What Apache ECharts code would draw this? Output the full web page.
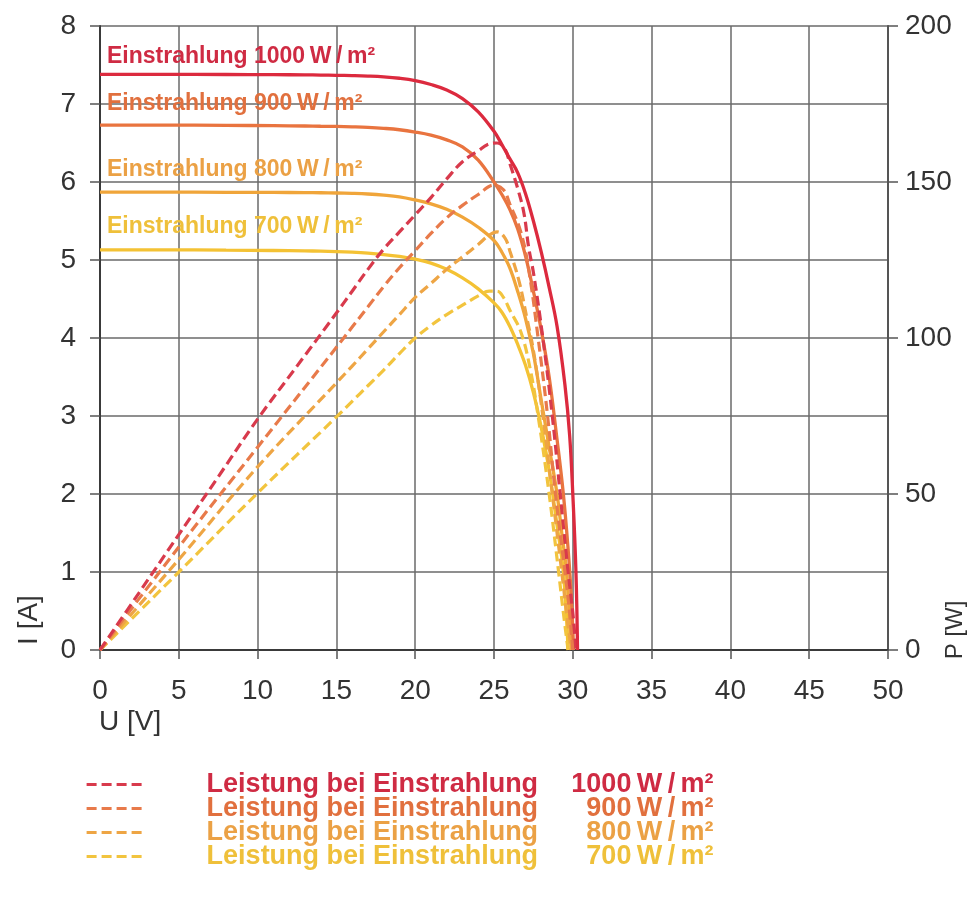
<!DOCTYPE html>
<html>
<head>
<meta charset="utf-8">
<script src="https://cdn.jsdelivr.net/npm/echarts@6/dist/echarts.min.js"></script>
<style>html,body{margin:0;padding:0;background:#fff}#c{width:980px;height:897px}</style>
</head>
<body>
<div id="c"></div>
<script>
// ---- data ----
// I-U curves (solid, left axis, I in A)
const U_I1000 = [0, 4, 8, 11, 13, 14, 15, 16, 17, 18, 19, 20, 21, 22, 23, 24, 25, 25.5, 26, 26.5, 27, 27.5, 28, 28.5, 29, 29.5, 29.8, 30.0, 30.2, 30.3];
const I1000   = [7.38, 7.38, 7.378, 7.376, 7.373, 7.371, 7.368, 7.364, 7.358, 7.348, 7.33, 7.3, 7.25, 7.18, 7.07, 6.9, 6.65, 6.48, 6.3, 6.12, 5.85, 5.5, 5.1, 4.65, 4.15, 3.4, 2.75, 2.0, 1.0, 0];
const U_I900  = [0, 4, 8, 11, 13, 14, 15, 16, 17, 18, 19, 20, 21, 22, 23, 24, 25, 25.5, 26, 26.5, 27, 27.5, 28, 28.5, 29, 29.4, 29.7, 29.9, 30.05];
const I900    = [6.73, 6.73, 6.726, 6.722, 6.718, 6.715, 6.712, 6.707, 6.7, 6.688, 6.67, 6.64, 6.6, 6.54, 6.45, 6.28, 6.0, 5.84, 5.65, 5.4, 5.05, 4.6, 4.1, 3.5, 2.7, 2.0, 1.3, 0.7, 0];
const U_I800  = [0, 4, 8, 11, 13, 14, 15, 16, 17, 18, 19, 20, 21, 22, 23, 24, 25, 25.5, 26, 26.5, 27, 27.5, 28, 28.5, 29, 29.3, 29.6, 29.9];
const I800    = [5.87, 5.87, 5.868, 5.866, 5.864, 5.862, 5.859, 5.854, 5.846, 5.832, 5.81, 5.77, 5.72, 5.65, 5.55, 5.42, 5.25, 5.1, 4.9, 4.6, 4.25, 3.8, 3.2, 2.6, 2.0, 1.5, 1.0, 0];
const U_I700  = [0, 4, 8, 11, 13, 14, 15, 16, 17, 18, 19, 20, 21, 22, 23, 24, 25, 25.5, 26, 26.5, 27, 27.5, 28, 28.5, 29, 29.4, 29.7];
const I700    = [5.13, 5.13, 5.126, 5.122, 5.117, 5.113, 5.108, 5.1, 5.088, 5.07, 5.045, 5.01, 4.96, 4.88, 4.77, 4.63, 4.45, 4.33, 4.15, 3.92, 3.65, 3.3, 2.85, 2.3, 1.6, 1.0, 0];

// P-U curves (dashed, right axis, P in W)
const U_P1000 = [0, 2.5, 5, 7.5, 10, 12.5, 15, 16, 17, 18, 19, 20, 21, 22, 23, 24, 24.6, 25.2, 25.7, 26.0, 26.5, 26.9, 27.2, 27.5, 28.1, 28.7, 29.2, 29.7, 30.0, 30.2];
const P1000   = [0, 18.5, 37, 55.5, 74, 91, 108, 115, 122, 128.5, 134, 139.5, 145, 151, 156.5, 160, 162, 162.5, 160.5, 156, 148, 140, 129, 121, 100, 75, 50, 25, 12, 0];
const U_P900  = [0, 5, 10, 15, 16, 17, 18, 19, 20, 21, 22, 23, 24, 25, 25.6, 26.0, 26.7, 27.2, 27.8, 28.4, 28.9, 29.5, 29.8, 30.0];
const P900    = [0, 33, 65, 97, 103.5, 110, 116.5, 122.5, 128, 133.5, 138.5, 142.5, 146, 149, 147.5, 143, 134, 122, 100, 75, 50, 25, 12, 0];
const U_P800  = [0, 5, 10, 15, 16, 17, 18, 19, 20, 21, 22, 23, 24, 24.7, 25.2, 25.7, 26.0, 26.6, 27.1, 27.5, 28.1, 28.7, 29.3, 29.6, 29.9];
const P800    = [0, 29, 58.7, 85.6, 91, 96.5, 102, 107.5, 113, 117.5, 122, 126, 130, 133, 134, 132, 128, 118, 106, 96, 75, 50, 25, 12, 0];
const U_P700  = [0, 5, 10, 15, 16, 17, 18, 19, 20, 21, 22, 23, 24, 24.7, 25.2, 25.6, 26.0, 26.7, 27.3, 27.8, 28.5, 29.1, 29.4, 29.7];
const P700    = [0, 25, 50.3, 74.7, 79.7, 84.7, 89.7, 95, 100, 104, 107.5, 110.5, 113.5, 115, 115, 113, 109, 102, 90, 75, 50, 25, 12, 0];

// axis ticks / labels
const xTicks = { min: 0, max: 50, step: 5 };
const yTicksI = { min: 0, max: 8, step: 1 };
const yTicksP = { min: 0, max: 200, step: 50 };
const irradiance = ['1000', '900', '800', '700'];

// ---- styling ----
const colSolid = { '1000': '#dc2a3e', '900': '#e9743f', '800': '#f0a53a', '700': '#f4c234' };
const colDash  = { '1000': '#d83a4c', '900': '#e87a4a', '800': '#eea544', '700': '#f2c43e' };
const colText  = { '1000': '#cf2b43', '900': '#e1703e', '800': '#eba145', '700': '#efc03a' };
const FONT = "'Liberation Sans', Arial, sans-serif";
const TS = '\u2009';

const pairs = (u, v) => u.map((x, i) => [x, v[i]]);

const solid = (name, u, v) => ({
  name, type: 'line', yAxisIndex: 0, data: pairs(u, v), symbol: 'none', showSymbol: false,
  smooth: 0.4,
  lineStyle: { color: colSolid[name.slice(1)], width: 3.3 }, itemStyle: { color: colSolid[name.slice(1)] },
  silent: true
});
const dashed = (name, u, v) => ({
  name, type: 'line', yAxisIndex: 1, data: pairs(u, v), symbol: 'none', showSymbol: false,
  smooth: 0.4,
  lineStyle: { color: colDash[name.slice(1)], width: 3.2, type: [10, 5] }, itemStyle: { color: colDash[name.slice(1)] },
  silent: true
});

const legendRich = (k) => ({
  sp: { width: 60, lineHeight: 24 },
  a: { width: 345, fontSize: 27, fontWeight: 'bold', fontFamily: FONT, color: colText[k], lineHeight: 24 },
  b: { width: 162, align: 'right', fontSize: 27, fontWeight: 'bold', fontFamily: FONT, color: colText[k], lineHeight: 24 }
});

const chart = echarts.init(document.getElementById('c'), null, { renderer: 'canvas' });

const labelText = (k, y) => ({
  type: 'text', left: 107, top: y, z: 100,
  style: {
    text: 'Einstrahlung ' + k + TS + 'W' + TS + '/' + TS + 'm\u00b2',
    fontSize: 23, fontWeight: 'bold', fontFamily: FONT, fill: colText[k]
  }
});

const option = {
  animation: false,
  backgroundColor: '#fff',
  grid: { left: 100, right: 92, top: 26, bottom: 247 },
  xAxis: {
    type: 'value', min: xTicks.min, max: xTicks.max, interval: xTicks.step,
    axisLine: { show: true, lineStyle: { color: '#3a3a3a', width: 2 } },
    axisTick: { show: true, length: 9, lineStyle: { color: '#555', width: 1.5 } },
    splitLine: { show: true, lineStyle: { color: '#6a6a6a', width: 1.5 } },
    axisLabel: { fontSize: 28, color: '#333', margin: 27, fontFamily: FONT }
  },
  yAxis: [
    {
      type: 'value', min: yTicksI.min, max: yTicksI.max, interval: yTicksI.step, position: 'left',
      axisLine: { show: true, lineStyle: { color: '#3a3a3a', width: 2 } },
      axisTick: { show: true, length: 10, lineStyle: { color: '#555', width: 1.5 } },
      splitLine: { show: true, lineStyle: { color: '#6a6a6a', width: 1.5 } },
      axisLabel: { fontSize: 28, color: '#333', margin: 24, fontFamily: FONT }
    },
    {
      type: 'value', min: yTicksP.min, max: yTicksP.max, interval: yTicksP.step, position: 'right',
      axisLine: { show: true, lineStyle: { color: '#555', width: 2 } },
      axisTick: { show: true, length: 10, lineStyle: { color: '#555', width: 1.5 } },
      splitLine: { show: false },
      axisLabel: { fontSize: 28, color: '#333', margin: 17, fontFamily: FONT }
    }
  ],
  legend: {
    orient: 'vertical', left: 80, top: 766, itemGap: -3, itemWidth: 55, itemHeight: 14,
    selectedMode: false,
    itemStyle: { opacity: 0 },
    lineStyle: { width: 3.2, type: [10, 5] },
    data: irradiance.map(k => ({
      name: 'P' + k,
      textStyle: { lineHeight: 24, rich: legendRich(k) }
    })),
    formatter: (name) => {
      const k = name.slice(1);
      return '{sp|}{a|Leistung bei Einstrahlung}{b|' + k + TS + 'W' + TS + '/' + TS + 'm\u00b2}';
    }
  },
  graphic: [
    labelText('1000', 45),
    labelText('900', 92),
    labelText('800', 158),
    labelText('700', 215),
    { type: 'text', left: 99, top: 708, style: { text: 'U [V]', fontSize: 28, fontFamily: FONT, fill: '#333' } },
    { type: 'text', x: 29, y: 620, rotation: Math.PI / 2,
      style: { text: 'I [A]', fontSize: 28, fontFamily: FONT, fill: '#333', align: 'center', verticalAlign: 'middle' } },
    { type: 'text', x: 955, y: 630, rotation: Math.PI / 2,
      style: { text: 'P [W]', fontSize: 24, fontFamily: FONT, fill: '#333', align: 'center', verticalAlign: 'middle' } }
  ],
  series: [
    solid('I700', U_I700, I700),
    solid('I800', U_I800, I800),
    solid('I900', U_I900, I900),
    dashed('P700', U_P700, P700),
    dashed('P800', U_P800, P800),
    dashed('P900', U_P900, P900),
    dashed('P1000', U_P1000, P1000),
    solid('I1000', U_I1000, I1000)
  ]
};
chart.setOption(option);
</script>
</body>
</html>
